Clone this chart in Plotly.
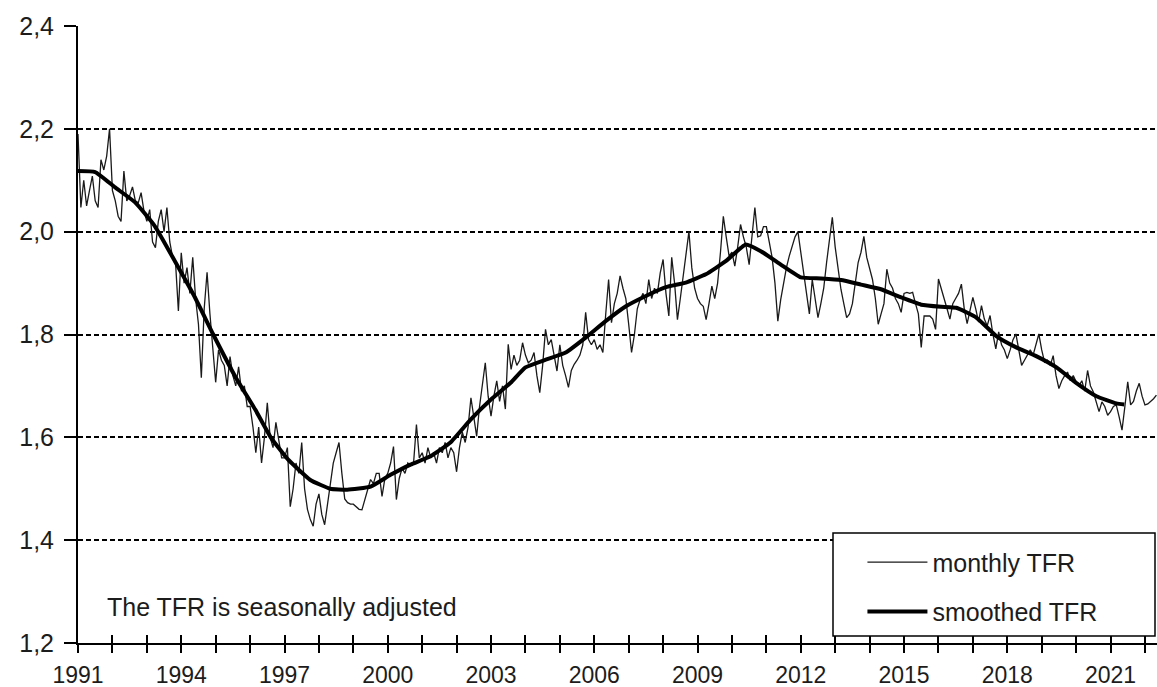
import plotly.graph_objects as go

# ---------------- data ----------------
first_year = 1991  # monthly series starts January 1991

monthly_tfr = [
    # 1991
    2.19, 2.047, 2.10, 2.05, 2.08, 2.108, 2.06, 2.047, 2.14, 2.12, 2.147, 2.20,
    # 1992
    2.08, 2.06, 2.03, 2.02, 2.118, 2.06, 2.07, 2.087, 2.06, 2.056, 2.076, 2.04,
    # 1993
    2.02, 2.043, 1.98, 1.969, 2.02, 2.043, 2.00, 2.047, 1.98, 1.95, 1.94, 1.846,
    # 1994
    1.959, 1.90, 1.93, 1.88, 1.95, 1.87, 1.82, 1.716, 1.85, 1.921, 1.84, 1.78,
    # 1995
    1.707, 1.77, 1.75, 1.74, 1.70, 1.757, 1.72, 1.70, 1.737, 1.69, 1.70, 1.66,
    # 1996
    1.66, 1.62, 1.57, 1.62, 1.55, 1.60, 1.667, 1.60, 1.58, 1.629, 1.59, 1.56,
    # 1997
    1.56, 1.58, 1.465, 1.50, 1.55, 1.53, 1.59, 1.50, 1.46, 1.44, 1.427, 1.47,
    # 1998
    1.49, 1.45, 1.43, 1.47, 1.52, 1.55, 1.57, 1.59, 1.53, 1.48, 1.473, 1.47,
    # 1999
    1.47, 1.465, 1.46, 1.459, 1.48, 1.50, 1.518, 1.51, 1.53, 1.53, 1.485, 1.52,
    # 2000
    1.53, 1.55, 1.582, 1.479, 1.52, 1.54, 1.53, 1.55, 1.545, 1.55, 1.625, 1.56,
    # 2001
    1.57, 1.55, 1.58, 1.56, 1.57, 1.55, 1.58, 1.57, 1.59, 1.56, 1.58, 1.57,
    # 2002
    1.533, 1.58, 1.61, 1.59, 1.62, 1.677, 1.64, 1.602, 1.66, 1.70, 1.745, 1.68,
    # 2003
    1.641, 1.68, 1.71, 1.67, 1.70, 1.655, 1.781, 1.732, 1.76, 1.74, 1.75, 1.784,
    # 2004
    1.76, 1.745, 1.75, 1.765, 1.72, 1.687, 1.74, 1.81, 1.78, 1.79, 1.76, 1.729,
    # 2005
    1.78, 1.74, 1.72, 1.697, 1.73, 1.742, 1.75, 1.76, 1.78, 1.843, 1.79, 1.78,
    # 2006
    1.79, 1.771, 1.78, 1.765, 1.84, 1.907, 1.823, 1.86, 1.88, 1.914, 1.89, 1.87,
    # 2007
    1.82, 1.765, 1.80, 1.85, 1.868, 1.88, 1.86, 1.907, 1.87, 1.89, 1.88, 1.92,
    # 2008
    1.946, 1.88, 1.836, 1.95, 1.90, 1.829, 1.87, 1.914, 1.95, 2.00, 1.93, 1.89,
    # 2009
    1.87, 1.86, 1.855, 1.829, 1.86, 1.894, 1.87, 1.90, 1.96, 2.03, 1.99, 1.953,
    # 2010
    1.96, 1.933, 1.97, 2.014, 1.99, 1.97, 1.936, 1.99, 2.047, 1.99, 1.992, 2.01,
    # 2011
    2.01, 1.98, 1.95, 1.90, 1.826, 1.868, 1.90, 1.93, 1.953, 1.97, 1.99, 2.00,
    # 2012
    1.96, 1.92, 1.88, 1.84, 1.907, 1.87, 1.833, 1.86, 1.89, 1.94, 1.98, 2.028,
    # 2013
    1.97, 1.93, 1.888, 1.86, 1.833, 1.84, 1.86, 1.90, 1.94, 1.96, 1.991, 1.95,
    # 2014
    1.93, 1.907, 1.87, 1.82, 1.84, 1.86, 1.927, 1.90, 1.89, 1.87, 1.86, 1.843,
    # 2015
    1.88, 1.882, 1.88, 1.882, 1.86, 1.84, 1.775, 1.836, 1.836, 1.836, 1.83, 1.81,
    # 2016
    1.908, 1.89, 1.869, 1.85, 1.83, 1.86, 1.87, 1.88, 1.898, 1.85, 1.821, 1.85,
    # 2017
    1.872, 1.85, 1.824, 1.856, 1.83, 1.817, 1.837, 1.80, 1.772, 1.805, 1.78, 1.77,
    # 2018
    1.753, 1.77, 1.79, 1.801, 1.77, 1.74, 1.75, 1.76, 1.77, 1.76, 1.78, 1.801,
    # 2019
    1.77, 1.746, 1.75, 1.74, 1.759, 1.72, 1.695, 1.71, 1.72, 1.727, 1.71, 1.72,
    # 2020
    1.708, 1.70, 1.71, 1.69, 1.730, 1.70, 1.688, 1.67, 1.65, 1.669, 1.66, 1.643,
    # 2021
    1.65, 1.66, 1.663, 1.64, 1.614, 1.66, 1.708, 1.663, 1.67, 1.69, 1.705, 1.68,
    # 2022
    1.663, 1.665, 1.67, 1.675, 1.682,
]

smooth_years = [
    1991.0, 1991.5, 1992.08, 1992.66, 1993.24, 1993.82, 1994.4, 1994.93,
    1995.57, 1996.15, 1996.6, 1997.1, 1997.75, 1998.33, 1998.82, 1999.5,
    2000.08, 2000.66, 2001.24, 2001.82, 2002.4, 2002.99, 2003.57, 2004.0,
    2004.59, 2005.17, 2005.75, 2006.33, 2006.92, 2007.5, 2008.08, 2008.66,
    2009.24, 2009.83, 2010.4, 2010.84, 2011.42, 2012.0, 2012.59, 2013.17,
    2013.75, 2014.33, 2014.92, 2015.5, 2016.08, 2016.52, 2017.1, 2017.68,
    2018.26, 2018.84, 2019.43, 2020.0, 2020.59, 2021.17, 2021.4,
]
smooth_tfr = [
    2.118, 2.116, 2.086, 2.057, 2.010, 1.942, 1.872, 1.800,
    1.718, 1.654, 1.600, 1.557, 1.517, 1.500, 1.498, 1.504,
    1.527, 1.547, 1.563, 1.590, 1.634, 1.673, 1.706, 1.736,
    1.751, 1.765, 1.794, 1.826, 1.855, 1.875, 1.892, 1.901,
    1.917, 1.943, 1.975, 1.962, 1.936, 1.911, 1.909, 1.906,
    1.897, 1.888, 1.872, 1.858, 1.854, 1.852, 1.833, 1.797,
    1.775, 1.758, 1.736, 1.706, 1.680, 1.666, 1.664,
]

tick_years = list(range(1991, 2023))
tick_labels = [str(y) if (y - 1991) % 3 == 0 else "" for y in tick_years]
y_ticks = [1.2, 1.4, 1.6, 1.8, 2.0, 2.2, 2.4]

note_text = "The TFR is seasonally adjusted"

# ---------------- figure ----------------
month_x = [first_year + i / 12 for i in range(len(monthly_tfr))]

FONT = "Liberation Sans, Arial, sans-serif"
TXT = "#1c1c1c"
FS = 25

fig = go.Figure()
fig.add_trace(go.Scatter(
    x=month_x, y=monthly_tfr, mode="lines", name="monthly TFR",
    line=dict(color="#1a1a1a", width=1.3), legendgroup="a",
    hoverinfo="skip",
))
fig.add_trace(go.Scatter(
    x=smooth_years, y=smooth_tfr, mode="lines", name="smoothed TFR",
    line=dict(color="black", width=4, shape="spline", smoothing=0.4),
    legendgroup="b", xaxis="x2", hoverinfo="skip",
))

fig.update_layout(
    width=1157, height=687,
    margin=dict(l=78, r=0, t=26, b=44, autoexpand=False),
    paper_bgcolor="white", plot_bgcolor="white",
    separators=",.",
    font=dict(family=FONT, size=FS, color=TXT),
    xaxis=dict(
        range=[1991, 2022.35], tickmode="array",
        tickvals=tick_years, ticktext=tick_labels,
        ticks="outside", ticklen=8, tickwidth=1.5, tickcolor="black",
        showline=True, linecolor="black", linewidth=2,
        showgrid=False, zeroline=False, automargin=False,
        tickfont=dict(size=23, family=FONT, color=TXT),
        ticklabelstandoff=2,
    ),
    xaxis2=dict(
        overlaying="x", matches="x", anchor="y", side="bottom",
        tickmode="array", tickvals=tick_years, automargin=False,
        ticks="inside", ticklen=8, tickwidth=1.5, tickcolor="black",
        showticklabels=False, showgrid=False, showline=False, zeroline=False,
    ),
    yaxis=dict(
        range=[1.2, 2.4], tickmode="array", tickvals=y_ticks,
        tickformat=".1f", automargin=False,
        ticks="outside", ticklen=12, tickwidth=1.5, tickcolor="black",
        showline=True, linecolor="black", linewidth=2,
        showgrid=True, gridcolor="black", gridwidth=1.5, griddash="5px,3px",
        zeroline=False,
        tickfont=dict(size=FS, family=FONT, color=TXT),
        ticklabelstandoff=5,
    ),
    showlegend=True,
    legend=dict(
        x=0.727, y=0.168, xanchor="left", yanchor="top",
        bgcolor="rgba(0,0,0,0)", borderwidth=0,
        font=dict(size=FS, family=FONT, color=TXT),
        tracegroupgap=14, itemwidth=60,
    ),
    shapes=[dict(
        type="rect", xref="paper", yref="paper",
        x0=(833 - 78) / 1079, x1=(1155 - 78) / 1079,
        y0=(643 - 636) / 617, y1=(643 - 533) / 617,
        line=dict(color="black", width=1.5), fillcolor="white", layer="above",
    )],
    annotations=[dict(
        text=note_text, xref="paper", yref="paper",
        x=(105 - 78) / 1079, y=(643 - 607) / 617,
        xanchor="left", yanchor="middle", showarrow=False,
        font=dict(size=FS, family=FONT, color=TXT),
    )],
)

fig.write_html("out.html")
